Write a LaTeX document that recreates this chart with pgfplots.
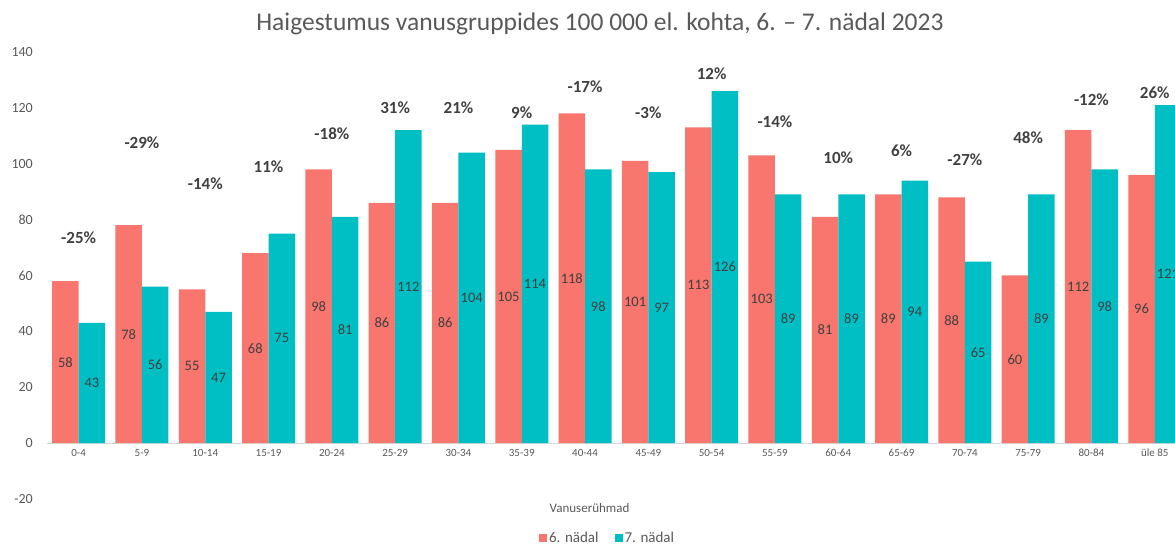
\documentclass[border=0pt]{standalone}
\usepackage{pgfplots}
\pgfplotsset{compat=1.18}
\usepackage{fontspec}
\setmainfont{Carlito}
\definecolor{cred}{HTML}{F8766D}
\definecolor{cteal}{HTML}{00BFC4}
\definecolor{tgray}{HTML}{595959}
\definecolor{dgray}{HTML}{404040}
\begin{document}
\begin{tikzpicture}
\begin{axis}[
  at={(47pt,45pt)}, anchor=south west,
  scale only axis, width=1128pt, height=447pt,
  xmin=-0.5, xmax=17.32, ymin=-20, ymax=140,
  ytick={-20,0,20,40,60,80,100,120,140},
  xtick={0,1,...,17},
  xticklabels={0-4,5-9,10-14,15-19,20-24,25-29,30-34,35-39,40-44,45-49,50-54,55-59,60-64,65-69,70-74,75-79,80-84,üle 85},
  axis line style={draw=none},
  major tick length=0pt,
  tick label style={text=tgray},
  yticklabel style={font=\fontsize{14}{16}\selectfont, inner sep=0pt, anchor=east, xshift=-14pt},
  xticklabel style={font=\fontsize{11}{13}\selectfont, inner sep=0pt, anchor=center, yshift=46pt},
  extra y ticks={0}, extra y tick labels={},
  extra y tick style={grid=major, major grid style={draw=black!15, line width=1pt}},
  /pgf/number format/assume math mode=true,
  title={Haigestumus vanusgruppides 100 000 el. kohta, 6. – 7. nädal 2023},
  title style={at={(axis description cs:0.4902,1)}, anchor=center, yshift=22pt, font=\fontsize{25.5}{28}\selectfont, text=tgray},
  xlabel={Vanuserühmad},
  xlabel style={at={(axis description cs:0.481,0)}, anchor=center, yshift=-9pt, font=\fontsize{13}{15}\selectfont, text=tgray},
  legend style={at={(axis description cs:0.497,0)}, anchor=center, yshift=-39pt, draw=none, fill=none, font=\fontsize{15}{17}\selectfont, text=tgray, /tikz/every even column/.append style={column sep=14pt}},
  legend columns=2,
]
\addplot[ybar, bar width=26.5pt, bar shift=-13.25pt, fill=cred, draw=none,
  legend image code/.code={\fill[cred] (0pt,-4pt) rectangle (8pt,4pt);},
  nodes near coords, visualization depends on={rawy \as \rawy},
  every node near coord/.append style={anchor=center, font=\fontsize{14.5}{16}\selectfont, text=dgray, xshift=-13.25pt, yshift={-\rawy*1.397pt}}]
coordinates {(0,58) (1,78) (2,55) (3,68) (4,98) (5,86) (6,86) (7,105) (8,118) (9,101) (10,113) (11,103) (12,81) (13,89) (14,88) (15,60) (16,112) (17,96)};
\addplot[ybar, bar width=26.5pt, bar shift=13.25pt, fill=cteal, draw=none,
  legend image code/.code={\fill[cteal] (0pt,-4pt) rectangle (8pt,4pt);},
  nodes near coords, visualization depends on={rawy \as \rawy},
  every node near coord/.append style={anchor=center, font=\fontsize{14.5}{16}\selectfont, text=dgray, xshift=13.25pt, yshift={-\rawy*1.397pt}}]
coordinates {(0,43) (1,56) (2,47) (3,75) (4,81) (5,112) (6,104) (7,114) (8,98) (9,97) (10,126) (11,89) (12,89) (13,94) (14,65) (15,89) (16,98) (17,121)};
\addplot[draw=none, forget plot, nodes near coords, point meta=explicit symbolic,
  every node near coord/.append style={anchor=center, font=\bfseries\fontsize{17}{19}\selectfont, text=dgray}]
coordinates {(0,73.7) [-25\%] (1,107.4) [-29\%] (2,92.7) [-14\%] (3,98.8) [11\%] (4,110.6) [-18\%] (5,119.9) [31\%] (6,119.9) [21\%] (7,118.1) [9\%] (8,127.4) [-17\%] (9,118.1) [-3\%] (10,132.1) [12\%] (11,114.9) [-14\%] (12,102) [10\%] (13,104.5) [6\%] (14,101.6) [-27\%] (15,109.5) [48\%] (16,122.8) [-12\%] (17,125.6) [26\%]};
\legend{6. nädal, 7. nädal}
\end{axis}
\pgfresetboundingbox
\useasboundingbox (0,0) rectangle (1175pt,544pt);
\end{tikzpicture}
\end{document}
